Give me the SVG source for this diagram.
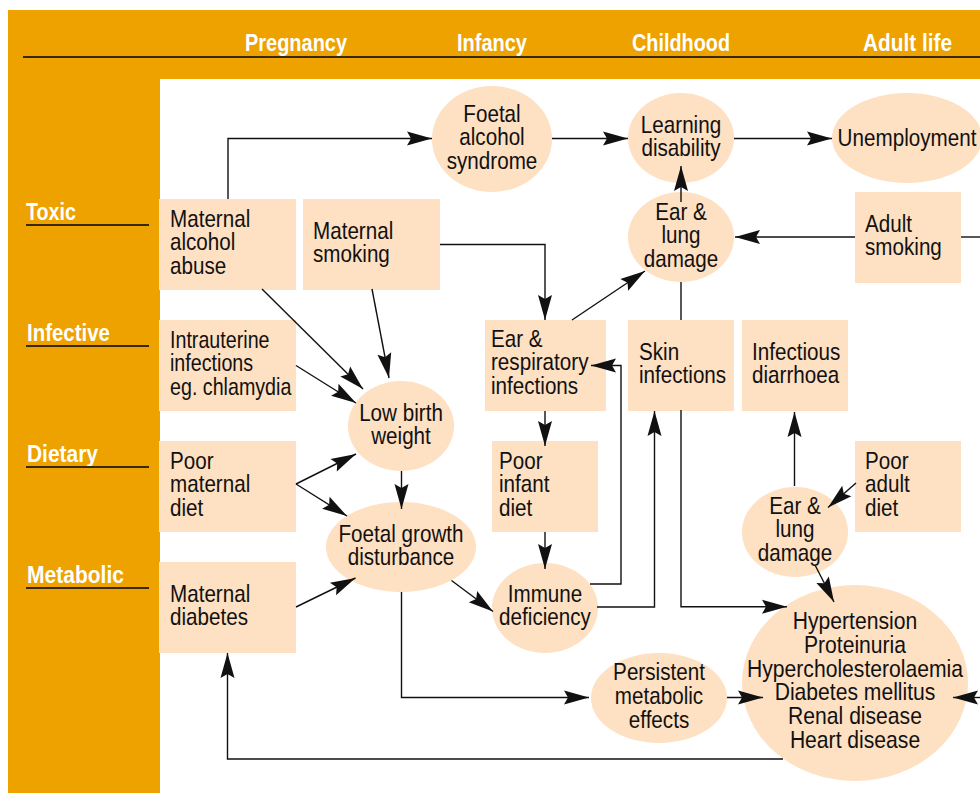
<svg xmlns="http://www.w3.org/2000/svg" width="980" height="793" viewBox="0 0 980 793">
<style>
.band{fill:#EEA200}
.box{fill:#FEE0C2}
.t{font-family:"Liberation Sans",Arial,sans-serif;font-size:24px;fill:#111}
.m{text-anchor:middle}
.h{font-family:"Liberation Sans",Arial,sans-serif;font-weight:bold;font-size:24px;fill:#fff}
.c{fill:none;stroke:#111;stroke-width:1.4;marker-end:url(#ah)}
.cn{fill:none;stroke:#111;stroke-width:1.4}
.rule{stroke:#3a2800;stroke-width:2}
</style>
<defs>
<marker id="ah" markerUnits="userSpaceOnUse" markerWidth="25" markerHeight="14" refX="25" refY="7" orient="auto" overflow="visible">
<path d="M0,0 L25,7 L0,14 L4,7 Z" fill="#111"/>
</marker>
</defs>
<rect width="980" height="793" fill="#fff"/>
<g id="frame">
<path class="band" d="M8,10 H980 V79 H160 V793 H8 Z"/>
<line class="rule" x1="23" y1="57" x2="980" y2="57"/>
<text class="h" x="245" y="51" textLength="102" lengthAdjust="spacingAndGlyphs">Pregnancy</text>
<text class="h" x="457" y="51" textLength="70" lengthAdjust="spacingAndGlyphs">Infancy</text>
<text class="h" x="632" y="51" textLength="98" lengthAdjust="spacingAndGlyphs">Childhood</text>
<text class="h" x="863" y="51" textLength="89" lengthAdjust="spacingAndGlyphs">Adult life</text>
<text class="h" x="26" y="220" textLength="50" lengthAdjust="spacingAndGlyphs">Toxic</text>
<text class="h" x="27" y="341" textLength="83" lengthAdjust="spacingAndGlyphs">Infective</text>
<text class="h" x="27" y="462" textLength="71" lengthAdjust="spacingAndGlyphs">Dietary</text>
<text class="h" x="27" y="583" textLength="97" lengthAdjust="spacingAndGlyphs">Metabolic</text>
<line class="rule" x1="26" y1="225" x2="149" y2="225"/>
<line class="rule" x1="26" y1="346" x2="149" y2="346"/>
<line class="rule" x1="26" y1="467" x2="149" y2="467"/>
<line class="rule" x1="26" y1="588" x2="149" y2="588"/>
</g>
<g id="n_alcohol"><rect class="box" x="159" y="199" width="137" height="91"/><text class="t" transform="translate(170,227) scale(0.86,1)"><tspan x="0">Maternal</tspan><tspan x="0" dy="23.5">alcohol</tspan><tspan x="0" dy="23.5">abuse</tspan></text></g>
<g id="n_msmoking"><rect class="box" x="303" y="199" width="137" height="91"/><text class="t" transform="translate(313,239) scale(0.86,1)"><tspan x="0">Maternal</tspan><tspan x="0" dy="23.5">smoking</tspan></text></g>
<g id="n_intrauterine"><rect class="box" x="159" y="320" width="137" height="91"/><text class="t" transform="translate(170,348) scale(0.82,1)"><tspan x="0">Intrauterine</tspan><tspan x="0" dy="23.5">infections</tspan><tspan x="0" dy="23.5">eg. chlamydia</tspan></text></g>
<g id="n_pmdiet"><rect class="box" x="159" y="441" width="137" height="91"/><text class="t" transform="translate(170,469) scale(0.86,1)"><tspan x="0">Poor</tspan><tspan x="0" dy="23.5">maternal</tspan><tspan x="0" dy="23.5">diet</tspan></text></g>
<g id="n_mdiabetes"><rect class="box" x="159" y="562" width="137" height="91"/><text class="t" transform="translate(170,602) scale(0.86,1)"><tspan x="0">Maternal</tspan><tspan x="0" dy="23.5">diabetes</tspan></text></g>
<g id="n_fas"><ellipse class="box" cx="492" cy="139" rx="60" ry="53"/><text class="t m" transform="translate(492,122) scale(0.86,1)"><tspan x="0">Foetal</tspan><tspan x="0" dy="23.5">alcohol</tspan><tspan x="0" dy="23.5">syndrome</tspan></text></g>
<g id="n_learning"><ellipse class="box" cx="681" cy="138" rx="53" ry="45"/><text class="t m" transform="translate(681,133) scale(0.86,1)"><tspan x="0">Learning</tspan><tspan x="0" dy="23.5">disability</tspan></text></g>
<g id="n_unemp"><ellipse class="box" cx="907" cy="138" rx="75" ry="45"/><text class="t m" transform="translate(907,146) scale(0.86,1)">Unemployment</text></g>
<g id="n_earlung1"><ellipse class="box" cx="681" cy="237" rx="53" ry="45"/><text class="t m" transform="translate(681,220) scale(0.86,1)"><tspan x="0">Ear &amp;</tspan><tspan x="0" dy="23.5">lung</tspan><tspan x="0" dy="23.5">damage</tspan></text></g>
<g id="n_adultsmoking"><rect class="box" x="855" y="192" width="106" height="91"/><text class="t" transform="translate(865,232) scale(0.86,1)"><tspan x="0">Adult</tspan><tspan x="0" dy="23.5">smoking</tspan></text></g>
<g id="n_lbw"><ellipse class="box" cx="401" cy="426" rx="53" ry="45"/><text class="t m" transform="translate(401,421) scale(0.86,1)"><tspan x="0">Low birth</tspan><tspan x="0" dy="23.5">weight</tspan></text></g>
<g id="n_fgd"><ellipse class="box" cx="401" cy="547" rx="75" ry="45"/><text class="t m" transform="translate(401,542) scale(0.86,1)"><tspan x="0">Foetal growth</tspan><tspan x="0" dy="23.5">disturbance</tspan></text></g>
<g id="n_earresp"><rect class="box" x="485" y="320" width="121" height="91"/><text class="t" transform="translate(491,347) scale(0.86,1)"><tspan x="0">Ear &amp;</tspan><tspan x="0" dy="23.5">respiratory</tspan><tspan x="0" dy="23.5">infections</tspan></text></g>
<g id="n_skin"><rect class="box" x="628" y="320" width="106" height="91"/><text class="t" transform="translate(639,360) scale(0.86,1)"><tspan x="0">Skin</tspan><tspan x="0" dy="23.5">infections</tspan></text></g>
<g id="n_diarrhoea"><rect class="box" x="742" y="320" width="106" height="91"/><text class="t" transform="translate(752,360) scale(0.86,1)"><tspan x="0">Infectious</tspan><tspan x="0" dy="23.5">diarrhoea</tspan></text></g>
<g id="n_pidiet"><rect class="box" x="492" y="441" width="106" height="91"/><text class="t" transform="translate(499,469) scale(0.86,1)"><tspan x="0">Poor</tspan><tspan x="0" dy="23.5">infant</tspan><tspan x="0" dy="23.5">diet</tspan></text></g>
<g id="n_padiet"><rect class="box" x="855" y="441" width="106" height="91"/><text class="t" transform="translate(865,469) scale(0.86,1)"><tspan x="0">Poor</tspan><tspan x="0" dy="23.5">adult</tspan><tspan x="0" dy="23.5">diet</tspan></text></g>
<g id="n_immune"><ellipse class="box" cx="545" cy="608" rx="53" ry="45"/><text class="t m" transform="translate(545,602) scale(0.86,1)"><tspan x="0">Immune</tspan><tspan x="0" dy="23.5">deficiency</tspan></text></g>
<g id="n_earlung2"><ellipse class="box" cx="795" cy="532" rx="53" ry="45"/><text class="t m" transform="translate(795,514) scale(0.86,1)"><tspan x="0">Ear &amp;</tspan><tspan x="0" dy="23.5">lung</tspan><tspan x="0" dy="23.5">damage</tspan></text></g>
<g id="n_persistent"><ellipse class="box" cx="659" cy="698" rx="68" ry="45"/><text class="t m" transform="translate(659,680) scale(0.86,1)"><tspan x="0">Persistent</tspan><tspan x="0" dy="23.8">metabolic</tspan><tspan x="0" dy="23.8">effects</tspan></text></g>
<g id="n_disease"><ellipse class="box" cx="855" cy="683" rx="113" ry="98"/><text class="t m" transform="translate(855,629) scale(0.88,1)"><tspan x="0">Hypertension</tspan><tspan x="0" dy="23.8">Proteinuria</tspan><tspan x="0" dy="23.8">Hypercholesterolaemia</tspan><tspan x="0" dy="23.8">Diabetes mellitus</tspan><tspan x="0" dy="23.8">Renal disease</tspan><tspan x="0" dy="23.8">Heart disease</tspan></text></g>
<g id="connectors">
<path class="c" d="M228,199 V138.5 H432"/>
<path class="c" d="M552,138.5 H628"/>
<path class="c" d="M734,138.5 H832"/>
<path class="c" d="M681,202 V166"/>
<path class="c" d="M855,237 H735"/>
<path class="cn" d="M961,237 H980"/>
<path class="c" d="M440,244.5 H545 V320"/>
<path class="c" d="M572,320 L645,271"/>
<path class="cn" d="M681,282 V320"/>
<path class="c" d="M681,410 V606.7 H787"/>
<path class="c" d="M545,411 V446"/>
<path class="c" d="M545,532 V569"/>
<path class="c" d="M590,584 H621 V365.5 H591"/>
<path class="c" d="M597,607 H654.5 V411"/>
<path class="c" d="M794.5,486 V412"/>
<path class="c" d="M856,483 L828,507.5"/>
<path class="c" d="M815,565 L834,602"/>
<path class="c" d="M262,289 L363,389"/>
<path class="c" d="M372,289 L389,378"/>
<path class="c" d="M296,365.5 L356,403"/>
<path class="c" d="M296,484 L356,454"/>
<path class="c" d="M296,484 L347,516"/>
<path class="c" d="M401.5,471 V509"/>
<path class="c" d="M296,607 L355.5,578"/>
<path class="c" d="M451.5,580.5 L493,611.5"/>
<path class="c" d="M401.5,592 V697.5 H589"/>
<path class="c" d="M727,697.5 H763"/>
<path class="c" d="M980,697.5 H953"/>
<path class="c" d="M783,759 H227.5 V653"/>
</g>
</svg>
